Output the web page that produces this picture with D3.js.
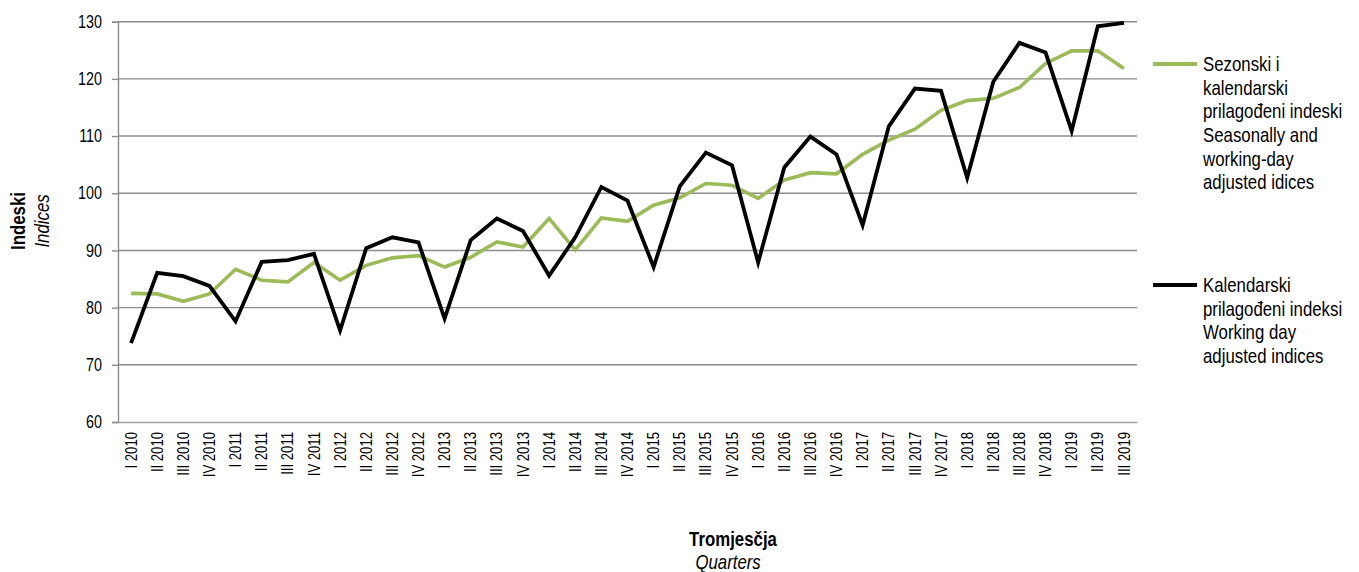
<!DOCTYPE html>
<html>
<head>
<meta charset="utf-8">
<script src="https://cdn.jsdelivr.net/npm/d3@7"></script>
<style>
  body { margin: 0; background: #fff; }
  svg text { font-family: "Liberation Sans", Arial, sans-serif; fill: #000; }
</style>
</head>
<body>
<svg id="chart" width="1359" height="572"></svg>
<script>
// Quarters
const quarters = [
  "I 2010", "II 2010", "III 2010", "IV 2010",
  "I 2011", "II 2011", "III 2011", "IV 2011",
  "I 2012", "II 2012", "III 2012", "IV 2012",
  "I 2013", "II 2013", "III 2013", "IV 2013",
  "I 2014", "II 2014", "III 2014", "IV 2014",
  "I 2015", "II 2015", "III 2015", "IV 2015",
  "I 2016", "II 2016", "III 2016", "IV 2016",
  "I 2017", "II 2017", "III 2017", "IV 2017",
  "I 2018", "II 2018", "III 2018", "IV 2018",
  "I 2019", "II 2019", "III 2019"
];

// Sezonski i kalendarski prilagođeni indeski
const seasonal = [
  82.5, 82.4, 81.1, 82.4, 86.7, 84.8, 84.5, 87.9,
  84.8, 87.4, 88.7, 89.1, 87.1, 88.8, 91.5, 90.6,
  95.6, 90.1, 95.7, 95.1, 97.9, 99.2, 101.7, 101.4,
  99.1, 102.3, 103.6, 103.4, 106.8, 109.3, 111.2, 114.5,
  116.2, 116.6, 118.5, 122.7, 124.9, 124.9, 121.8
];

// Kalendarski prilagođeni indeksi
const workingDay = [
  73.8, 86.1, 85.5, 83.8, 77.6, 88.0, 88.3, 89.4,
  76.0, 90.4, 92.3, 91.4, 78.1, 91.8, 95.6, 93.4,
  85.6, 92.3, 101.1, 98.7, 87.1, 101.2, 107.1, 104.9,
  87.9, 104.5, 109.9, 106.8, 94.4, 111.7, 118.3, 117.9,
  102.7, 119.5, 126.3, 124.6, 110.9, 129.2, 129.8
];

const yTicks = [60, 70, 80, 90, 100, 110, 120, 130];

const legendItems = [
  { color: "#9BBB59", lines: ["Sezonski i", "kalendarski", "prilagođeni indeski", "Seasonally and", "working-day", "adjusted idices"] },
  { color: "#000000", lines: ["Kalendarski", "prilagođeni indeksi", "Working day", "adjusted indices"] }
];

// no narrow font installed, so squeeze Liberation Sans to look like Arial Narrow
const narrow = 0.82;

const svg = d3.select("#chart");
const plotLeft = 118, plotRight = 1137, plotTop = 21.7, plotBottom = 422;

const x = d3.scaleBand().domain(quarters).range([plotLeft, plotRight]);
const y = d3.scaleLinear().domain([60, 130]).range([plotBottom, plotTop]);
const cx = d => x(d) + x.bandwidth() / 2;

// gridlines
svg.append("g")
  .selectAll("line")
  .data(yTicks.slice(1))
  .enter().append("line")
  .attr("x1", plotLeft).attr("x2", plotRight)
  .attr("y1", d => y(d)).attr("y2", d => y(d))
  .attr("stroke", "#8c8c8c")
  .attr("stroke-width", 1.4);

// y axis
const yAxis = svg.append("g")
  .attr("transform", `translate(${plotLeft},0)`)
  .call(d3.axisLeft(y).tickValues(yTicks).tickSize(6).tickPadding(10));
yAxis.select(".domain").attr("stroke", "#8c8c8c").attr("stroke-width", 1.4);
yAxis.selectAll(".tick line").attr("stroke", "#8c8c8c").attr("stroke-width", 1.4);
yAxis.selectAll("text")
  .attr("x", -16 / narrow)
  .attr("transform", `scale(${narrow},1)`)
  .style("font-size", "17.5px")
  .attr("fill", "#000");

// x axis
const xAxis = svg.append("g")
  .attr("transform", `translate(0,${plotBottom})`)
  .call(d3.axisBottom(x).tickSize(0).tickFormat(""));
xAxis.select(".domain").attr("stroke", "#a0a0a0").attr("stroke-width", 1.6);

svg.append("g")
  .selectAll("text")
  .data(quarters)
  .enter().append("text")
  .attr("transform", d => `translate(${cx(d)},432) rotate(-90) scale(${narrow},1)`)
  .attr("dy", "0.35em")
  .attr("text-anchor", "end")
  .style("font-size", "16px")
  .text(d => d);

// lines
const line = d3.line()
  .x((d, i) => cx(quarters[i]))
  .y(d => y(d));

svg.append("path")
  .datum(seasonal)
  .attr("fill", "none")
  .attr("stroke", "#9BBB59")
  .attr("stroke-width", 3.6)
  .attr("d", line);

svg.append("path")
  .datum(workingDay)
  .attr("fill", "none")
  .attr("stroke", "#000")
  .attr("stroke-width", 3.8)
  .attr("d", line);

// axis titles
const yTitle = svg.append("g")
  .attr("transform", `translate(0,221) rotate(-90) scale(${narrow},1)`);
yTitle.append("text").attr("y", 25).attr("text-anchor", "middle")
  .style("font-size", "20.5px").style("font-weight", "bold").text("Indeski");
yTitle.append("text").attr("y", 49).attr("text-anchor", "middle")
  .style("font-size", "20.5px").style("font-style", "italic").text("Indices");

const xTitle = svg.append("g")
  .attr("transform", `translate(733,0) scale(${narrow},1)`);
xTitle.append("text")
  .attr("y", 546)
  .attr("text-anchor", "middle")
  .style("font-size", "20.5px").style("font-weight", "bold")
  .text("Tromjesčja");
xTitle.append("text")
  .attr("x", -6).attr("y", 569)
  .attr("text-anchor", "middle")
  .style("font-size", "20.5px").style("font-style", "italic")
  .text("Quarters");

// legend
const legendY = [64, 285];
legendItems.forEach((item, k) => {
  const g = svg.append("g").attr("transform", `translate(1153,${legendY[k]})`);
  g.append("line")
    .attr("x1", 0).attr("x2", 44)
    .attr("stroke", item.color).attr("stroke-width", 4);
  g.append("g")
    .attr("transform", `translate(50,0) scale(${narrow},1)`)
    .selectAll("text")
    .data(item.lines)
    .enter().append("text")
    .attr("y", (d, i) => i * 23.6)
    .attr("dy", "0.35em")
    .style("font-size", "20.5px")
    .text(d => d);
});
</script>
</body>
</html>
